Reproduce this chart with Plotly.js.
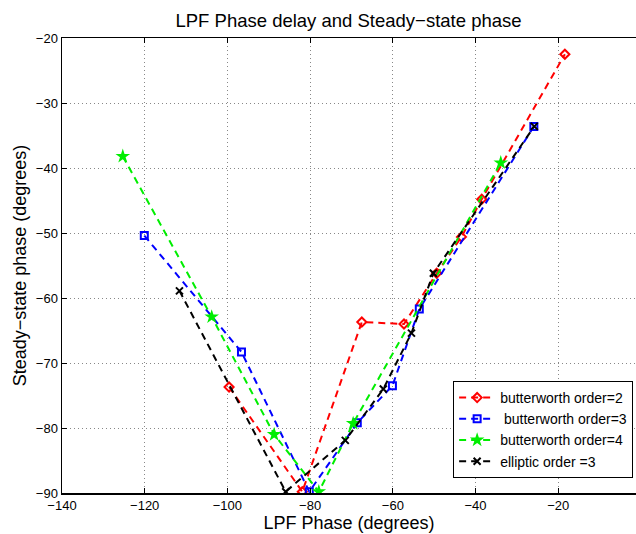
<!DOCTYPE html>
<html>
<head>
<meta charset="utf-8">
<script src="https://cdn.plot.ly/plotly-3.0.1.min.js"></script>
<style>html,body{margin:0;padding:0;background:#fff;}#chart{width:636px;height:534px;}</style>
</head>
<body>
<div id="chart"></div>
<script>
// Series data (LPF phase in degrees, steady-state phase in degrees)
const names = ["butterworth order=2", " butterworth order=3", "butterworth order=4", "elliptic order =3"];

const bw2X = [-99.6, -81.9, -67.5, -57.3, -49.4, -43.4, -38.5, -18.4];
const bw2Y = [-73.7, -89.8, -63.7, -64.0, -56.2, -50.6, -44.8, -22.5];

const bw3X = [-120.1, -96.6, -80.2, -68.6, -60.1, -53.6, -25.9];
const bw3Y = [-50.4, -68.3, -89.8, -79.2, -73.5, -61.7, -33.6];

const bw4X = [-125.3, -103.8, -88.7, -77.9, -69.6, -33.9];
const bw4Y = [-38.2, -62.9, -81.0, -89.8, -79.3, -39.2];

const ellX = [-111.6, -85.9, -71.5, -62.3, -55.5, -50.2, -25.8];
const ellY = [-58.9, -89.8, -81.9, -74.0, -65.4, -56.2, -33.6];

const xTicks = [-140, -120, -100, -80, -60, -40, -20];
const yTicks = [-90, -80, -70, -60, -50, -40, -30, -20];

const dashPat = "7px,5px";
function tr(x, y, name, color, symbol, size) {
  return {
    x: x, y: y, name: name, type: "scatter", mode: "lines+markers",
    line: {color: color, width: 2, dash: dashPat},
    marker: {symbol: symbol, size: size, color: color, line: {color: color, width: 2}}
  };
}
const data = [
  tr(bw2X, bw2Y, names[0], "#ff0000", "diamond-open", 7),
  tr(bw3X, bw3Y, names[1], "#0000ff", "square-open", 7),
  tr(bw4X, bw4Y, names[2], "#00ee00", "star", 11),
  tr(ellX, ellY, names[3], "#000000", "x-thin-open", 7)
];
data[2].marker.line = {color: "#00ee00", width: 0};

const font = "Liberation Sans, Arial, Helvetica, sans-serif";
const layout = {
  width: 636, height: 534,
  margin: {l: 62, r: 0, t: 38, b: 41},
  paper_bgcolor: "#fff", plot_bgcolor: "#fff",
  font: {family: font, size: 13, color: "#000"},
  title: {text: "LPF Phase delay and Steady\u2212state phase", font: {size: 18.5, family: font}, x: 0.548, xanchor: "center", y: 0.962, yanchor: "middle"},
  xaxis: {
    range: [-140, -1.2], tickvals: xTicks, ticks: "inside", ticklen: 5, tickcolor: "#000",
    showline: true, linecolor: "#000", linewidth: 1.5, mirror: "ticks",
    showgrid: true, gridcolor: "#888", griddash: "1px,3px", gridwidth: 1, zeroline: false,
    title: {text: "LPF Phase (degrees)", font: {size: 18, family: font}, standoff: 2},
    tickfont: {size: 13}
  },
  yaxis: {
    range: [-90, -20], tickvals: yTicks, ticks: "inside", ticklen: 5, tickcolor: "#000",
    showline: true, linecolor: "#000", linewidth: 1.5,
    showgrid: true, gridcolor: "#888", griddash: "1px,3px", gridwidth: 1, zeroline: false,
    title: {text: "Steady\u2212state phase (degrees)", font: {size: 18, family: font}, standoff: 4},
    tickfont: {size: 13}
  },
  legend: {
    x: 0.995, xanchor: "right", y: 0.033, yanchor: "bottom",
    bgcolor: "#fff", bordercolor: "#000", borderwidth: 1,
    font: {size: 14, family: font}, tracegroupgap: 0, itemwidth: 36
  },
  showlegend: true
};
Plotly.newPlot("chart", data, layout, {displayModeBar: false, staticPlot: true});
</script>
</body>
</html>
